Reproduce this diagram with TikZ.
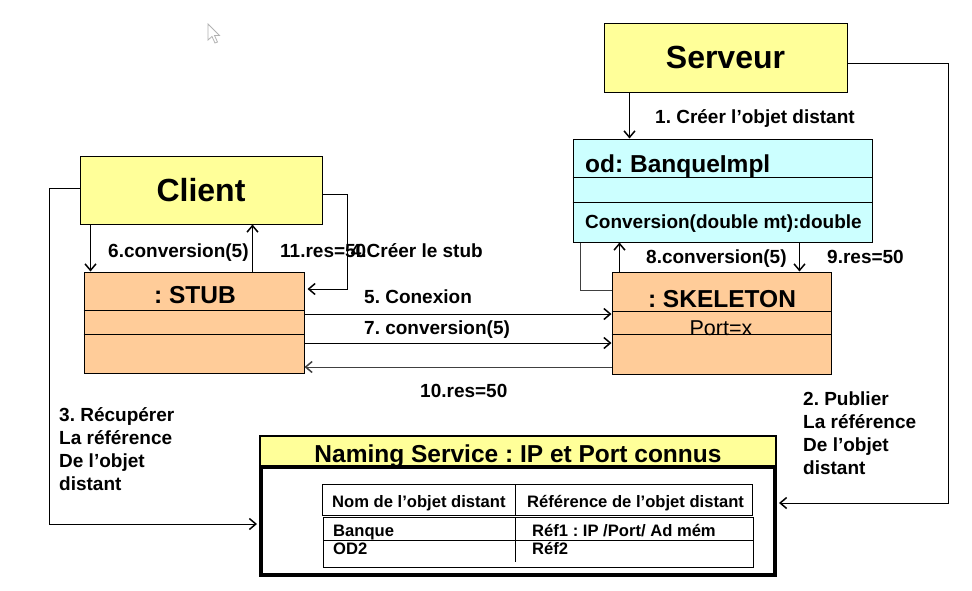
\documentclass[tikz,border=0pt]{standalone}
\usepackage{fontspec}
\setmainfont{Liberation Sans}
\usetikzlibrary{arrows.meta}
\definecolor{ylw}{HTML}{FFFF99}
\definecolor{cyn}{HTML}{CCFFFF}
\definecolor{org}{HTML}{FFCC99}
\frenchspacing
\begin{document}
\frenchspacing
\begin{tikzpicture}[x=1pt,y=-1pt,
 box/.style={draw, line width=1pt, inner sep=0pt},
 conn/.style={line width=1pt},
 arr/.style={line width=1pt, -{Straight Barb[length=6.5pt,width=11pt,line width=1.5pt]}},
 lbl/.style={font=\fontsize{19}{23}\selectfont\bfseries, inner sep=0pt, anchor=base west, align=left},
 big/.style={font=\fontsize{32}{36}\selectfont\bfseries},
 mid/.style={font=\fontsize{24.5}{28}\selectfont\bfseries, inner sep=0pt, anchor=base},
 tab/.style={font=\fontsize{16.6}{20}\selectfont\bfseries, inner sep=0pt, anchor=base west},
]
\useasboundingbox[fill=white] (0,0) rectangle (972,590);

% cursor
\draw[gray!60, fill=white, line width=0.8pt] (208,24) -- (208,40) -- (212,36.5) -- (215,43) -- (217.5,42) -- (214.5,35.5) -- (219.5,35.5) -- cycle;

% boxes
\node[box, big, fill=ylw, minimum width=243, minimum height=69] (serveur) at (725.5,57.5) {Serveur};
\node[box, big, fill=ylw, minimum width=242, minimum height=68] (client) at (201,190) {Client};

\node[box, fill=cyn, minimum width=299, minimum height=103] (od) at (722.5,190.5) {};
\draw[conn] ([yshift=-39pt]od.north west) -- ([yshift=-39pt]od.north east);
\draw[conn] ([yshift=-64pt]od.north west) -- ([yshift=-64pt]od.north east);
\node[mid, anchor=base west] (odname) at (585,172) {od: BanqueImpl};
\node[lbl] (odop) at (585,228) {Conversion(double mt):double};

\node[box, fill=org, minimum width=219, minimum height=102] (skel) at (721.5,323) {};
\draw[conn] ([yshift=-40pt]skel.north west) -- ([yshift=-40pt]skel.north east);
\draw[conn] ([yshift=-63pt]skel.north west) -- ([yshift=-63pt]skel.north east);
\node[mid] (skname) at (722,307) {: SKELETON};
\node[font=\fontsize{21.5}{24}\selectfont, inner sep=0pt, anchor=base] (port) at (721,335) {Port=x};

\node[box, fill=org, minimum width=220, minimum height=101] (stub) at (194,322.5) {};
\draw[conn] ([yshift=-39pt]stub.north west) -- ([yshift=-39pt]stub.north east);
\draw[conn] ([yshift=-63pt]stub.north west) -- ([yshift=-63pt]stub.north east);
\node[mid] (stubname) at (195,303) {: STUB};

% naming service
\node[draw, line width=4pt, minimum width=514, minimum height=138.5, inner sep=0pt] (naming) at (518,505.75) {};
\fill[ylw] ([xshift=2pt,yshift=-2pt]naming.north west) rectangle ([xshift=-2pt,yshift=-32.5pt]naming.north east);
\draw[line width=4pt] ([yshift=-32.5pt]naming.north west) -- ([yshift=-32.5pt]naming.north east);
\node[mid] (nhead) at (518,462) {Naming Service : IP et Port connus};

% table
\draw[conn] (322,484) rectangle (752,515);
\draw[conn] (515,484) -- (515,515);
\draw[conn] (323,517) rectangle (753,567);
\draw[conn] (323,540) -- (753,540);
\draw[conn] (515,517) -- (515,562);
\node[tab] (th1) at (332,507) {Nom de l’objet distant};
\node[tab] (th2) at (527,507) {Référence de l’objet distant};
\node[tab] (tb1) at (333,536) {Banque};
\node[tab] (tb2) at (532,536) {Réf1 : IP /Port/ Ad mém};
\node[tab] (tc1) at (333,554) {OD2};
\node[tab] (tc2) at (532,554) {Réf2};

% helper levels
\coordinate (y314) at (0,314);
\coordinate (y343) at (0,343);
\coordinate (y367) at (0,367);

% connectors
\draw[arr] ([xshift=26pt]serveur.south west) -- ([xshift=57pt]od.north west);
\draw[arr] ([yshift=-5.5pt]serveur.east) -- (948,63) |- ([yshift=2.75pt,xshift=2pt]naming.east);
\draw[arr] ([yshift=2pt]client.west) -- (49,188) |- ([yshift=-18.25pt,xshift=-2pt]naming.west);
\draw[arr] ([xshift=11pt]client.south west) -- ([xshift=7pt]stub.north west);
\draw[arr] ([xshift=169pt]stub.north west) -- ([xshift=173pt]client.south west);
\draw[arr] ([yshift=-4pt]client.east) -- (347,194) |- ([yshift=33.5pt,xshift=3pt]stub.east);
\draw[arr] (stub.east |- y314) -- (skel.west |- y314);
\draw[arr] (stub.east |- y343) -- (skel.west |- y343);
\draw[arr, black!75] (skel.west |- y367) -- (stub.east |- y367);
\draw[conn, black!75] ([xshift=8pt]od.south west) |- ([yshift=33pt]skel.west);
\draw[arr] ([xshift=8pt]skel.north west) -- ([xshift=47pt]od.south west);
\draw[arr] ([xshift=227pt]od.south west) -- ([xshift=188pt]skel.north west);

% labels
\node[lbl] (l1) at (655,123) {1. Créer l’objet distant};
\node[lbl] (l6) at (108,257) {6.conversion(5)};
\node[lbl] (l11) at (280,257) {11.res=50};
\node[lbl, anchor=base east] (l4) at (483,257) {4.Créer le stub};
\node[lbl] (l5) at (364,303) {5. Conexion};
\node[lbl] (l7) at (364,334) {7. conversion(5)};
\node[lbl] (l10) at (420,397) {10.res=50};
\node[lbl] (l8) at (646,263) {8.conversion(5)};
\node[lbl] (l9) at (827,263) {9.res=50};
\node[lbl, anchor=north west] (l2) at (803,392) {2. Publier\\La référence\\De l’objet\\distant};
\node[lbl, anchor=north west] (l3) at (59,407) {3. Récupérer\\La référence\\De l’objet\\distant};
\end{tikzpicture}
\end{document}
